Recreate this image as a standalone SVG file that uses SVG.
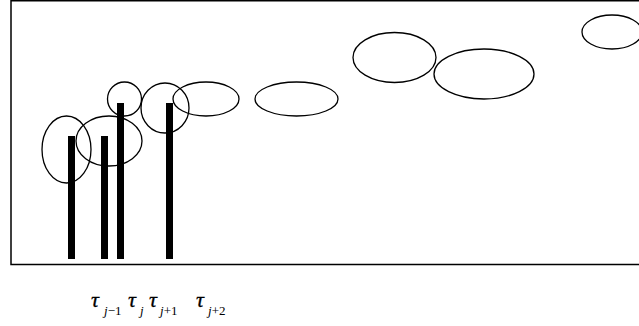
<svg xmlns="http://www.w3.org/2000/svg" width="639" height="326" viewBox="0 0 639 326">
<style>
.e{fill:none;stroke:#000;stroke-width:1.3}
.b{fill:#000}
.f{fill:none;stroke:#000;stroke-width:1.5}
.t{font-family:"Liberation Serif",serif;font-style:italic;font-size:22px;fill:#000;stroke:#000;stroke-width:0.3}
.s{font-family:"Liberation Serif",serif;font-size:13px;fill:#000}
.i{font-style:italic}
</style>
<rect width="639" height="326" fill="#fff"/>
<g id="frame">
<path class="f" d="M639 0.8H11V264.5H639"/>
</g>
<g id="bars">
<rect class="b" x="68" y="136" width="7" height="123"/>
<rect class="b" x="101" y="136" width="7" height="123"/>
<rect class="b" x="117" y="103" width="7" height="156"/>
<rect class="b" x="166" y="103" width="7" height="156"/>
</g>
<g id="ellipses">
<ellipse class="e" cx="66.5" cy="149.5" rx="24.5" ry="33.5"/>
<ellipse class="e" cx="109" cy="141" rx="33" ry="25"/>
<ellipse class="e" cx="124.5" cy="99" rx="17" ry="17"/>
<ellipse class="e" cx="165" cy="108" rx="24" ry="25"/>
<ellipse class="e" cx="206" cy="99" rx="33" ry="17"/>
<ellipse class="e" cx="296.5" cy="99" rx="41.5" ry="17"/>
<ellipse class="e" cx="394.5" cy="57.5" rx="41.5" ry="25"/>
<ellipse class="e" cx="484" cy="74" rx="50" ry="25"/>
<ellipse class="e" cx="612" cy="32" rx="30" ry="17"/>
</g>
<g id="labels">
<text class="t" x="91" y="307">τ</text><text class="s" x="104" y="315"><tspan class="i">j</tspan>−1</text>
<text class="t" x="128" y="307">τ</text><text class="s" x="140" y="315"><tspan class="i">j</tspan></text>
<text class="t" x="149" y="307">τ</text><text class="s" x="160" y="315"><tspan class="i">j</tspan>+1</text>
<text class="t" x="196" y="307">τ</text><text class="s" x="208" y="315"><tspan class="i">j</tspan>+2</text>
</g>
</svg>
